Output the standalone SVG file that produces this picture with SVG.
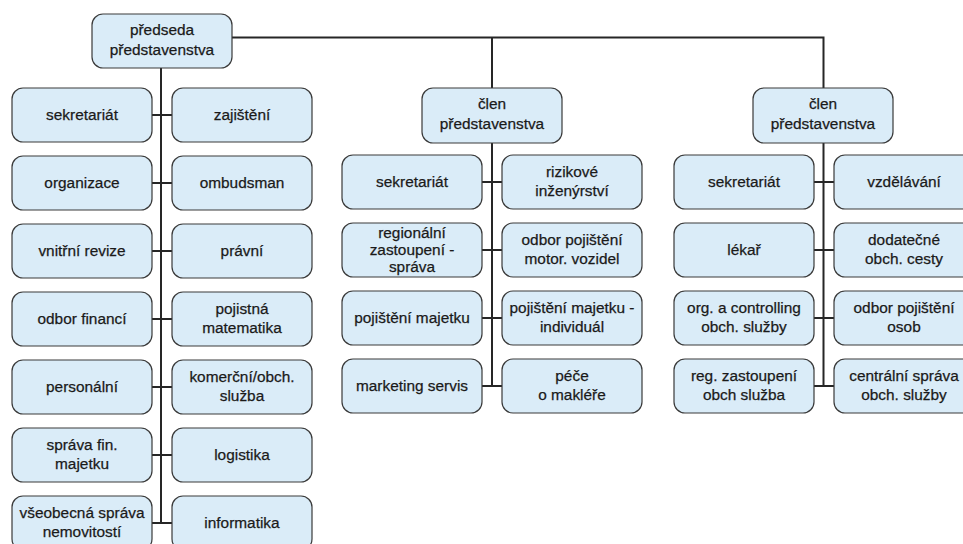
<svg xmlns="http://www.w3.org/2000/svg" width="963" height="544" viewBox="0 0 963 544">
<style>
.b{fill:#daecf8;stroke:#3a3a3a;stroke-width:1.2}
.t{font-family:"Liberation Sans",Arial,sans-serif;font-size:15.4px;fill:#1a1a1a;stroke:#1a1a1a;stroke-width:0.25;text-anchor:middle}
.c{stroke:#262626;stroke-width:2;fill:none}
</style>
<rect width="963" height="544" fill="#ffffff"/>
<g id="connectors" class="c">
<path d="M232 37.5H823.5V88M492 37.5V88"/>
<path d="M161 68V523M152 115H172M152 183H172M152 251H172M152 319H172M152 387H172M152 455H172M152 523H172"/>
<path d="M492 143V386M482 182H502M482 250H502M482 318H502M482 386H502"/>
<path d="M823.5 143V386M814 182H834M814 250H834M814 318H834M814 386H834"/>
</g>
<g id="predseda"><rect class="b" x="92" y="14" width="140" height="54" rx="11"/><text class="t" x="162" y="35">předseda</text><text class="t" x="162" y="54.5">představenstva</text></g>
<g id="l-sekretariat"><rect class="b" x="12" y="88" width="140" height="54" rx="11"/><text class="t" x="82" y="120">sekretariát</text></g>
<g id="l-zajisteni"><rect class="b" x="172" y="88" width="140" height="54" rx="11"/><text class="t" x="242" y="120">zajištění</text></g>
<g id="l-organizace"><rect class="b" x="12" y="156" width="140" height="54" rx="11"/><text class="t" x="82" y="188">organizace</text></g>
<g id="l-ombudsman"><rect class="b" x="172" y="156" width="140" height="54" rx="11"/><text class="t" x="242" y="188">ombudsman</text></g>
<g id="l-revize"><rect class="b" x="12" y="224" width="140" height="54" rx="11"/><text class="t" x="82" y="256">vnitřní revize</text></g>
<g id="l-pravni"><rect class="b" x="172" y="224" width="140" height="54" rx="11"/><text class="t" x="242" y="256">právní</text></g>
<g id="l-financi"><rect class="b" x="12" y="292" width="140" height="54" rx="11"/><text class="t" x="82" y="324">odbor financí</text></g>
<g id="l-matematika"><rect class="b" x="172" y="292" width="140" height="54" rx="11"/><text class="t" x="242" y="314">pojistná</text><text class="t" x="242" y="333">matematika</text></g>
<g id="l-personalni"><rect class="b" x="12" y="360" width="140" height="54" rx="11"/><text class="t" x="82" y="392">personální</text></g>
<g id="l-komercni"><rect class="b" x="172" y="360" width="140" height="54" rx="11"/><text class="t" x="242" y="382">komerční/obch.</text><text class="t" x="242" y="401">služba</text></g>
<g id="l-sprava-fin"><rect class="b" x="12" y="428" width="140" height="54" rx="11"/><text class="t" x="82" y="450">správa fin.</text><text class="t" x="82" y="469">majetku</text></g>
<g id="l-logistika"><rect class="b" x="172" y="428" width="140" height="54" rx="11"/><text class="t" x="242" y="460">logistika</text></g>
<g id="l-nemovitosti"><rect class="b" x="12" y="496" width="140" height="54" rx="11"/><text class="t" x="82" y="518">všeobecná správa</text><text class="t" x="82" y="537">nemovitostí</text></g>
<g id="l-informatika"><rect class="b" x="172" y="496" width="140" height="54" rx="11"/><text class="t" x="242" y="528">informatika</text></g>
<g id="clen1"><rect class="b" x="422" y="88" width="140" height="55" rx="11"/><text class="t" x="492" y="109">člen</text><text class="t" x="492" y="128.5">představenstva</text></g>
<g id="m-sekretariat"><rect class="b" x="342" y="155" width="140" height="54" rx="11"/><text class="t" x="412" y="187">sekretariát</text></g>
<g id="m-rizikove"><rect class="b" x="502" y="155" width="140" height="54" rx="11"/><text class="t" x="572" y="177">rizikové</text><text class="t" x="572" y="196">inženýrství</text></g>
<g id="m-regionalni"><rect class="b" x="342" y="223" width="140" height="54" rx="11"/><text class="t" x="412" y="237.5">regionální</text><text class="t" x="412" y="254.5">zastoupení -</text><text class="t" x="412" y="271.5">správa</text></g>
<g id="m-motor"><rect class="b" x="502" y="223" width="140" height="54" rx="11"/><text class="t" x="572" y="245">odbor pojištění</text><text class="t" x="572" y="264">motor. vozidel</text></g>
<g id="m-majetku"><rect class="b" x="342" y="291" width="140" height="54" rx="11"/><text class="t" x="412" y="323">pojištění majetku</text></g>
<g id="m-individual"><rect class="b" x="502" y="291" width="140" height="54" rx="11"/><text class="t" x="572" y="313">pojištění majetku -</text><text class="t" x="572" y="332">individuál</text></g>
<g id="m-marketing"><rect class="b" x="342" y="359" width="140" height="54" rx="11"/><text class="t" x="412" y="391">marketing servis</text></g>
<g id="m-pece"><rect class="b" x="502" y="359" width="140" height="54" rx="11"/><text class="t" x="572" y="381">péče</text><text class="t" x="572" y="400">o makléře</text></g>
<g id="clen2"><rect class="b" x="753" y="88" width="140" height="55" rx="11"/><text class="t" x="823" y="109">člen</text><text class="t" x="823" y="128.5">představenstva</text></g>
<g id="r-sekretariat"><rect class="b" x="674" y="155" width="140" height="54" rx="11"/><text class="t" x="744" y="187">sekretariát</text></g>
<g id="r-vzdelavani"><rect class="b" x="834" y="155" width="140" height="54" rx="11"/><text class="t" x="904" y="187">vzdělávání</text></g>
<g id="r-lekar"><rect class="b" x="674" y="223" width="140" height="54" rx="11"/><text class="t" x="744" y="255">lékař</text></g>
<g id="r-dodatecne"><rect class="b" x="834" y="223" width="140" height="54" rx="11"/><text class="t" x="904" y="245">dodatečné</text><text class="t" x="904" y="264">obch. cesty</text></g>
<g id="r-controlling"><rect class="b" x="674" y="291" width="140" height="54" rx="11"/><text class="t" x="744" y="313">org. a controlling</text><text class="t" x="744" y="332">obch. služby</text></g>
<g id="r-osob"><rect class="b" x="834" y="291" width="140" height="54" rx="11"/><text class="t" x="904" y="313">odbor pojištění</text><text class="t" x="904" y="332">osob</text></g>
<g id="r-reg"><rect class="b" x="674" y="359" width="140" height="54" rx="11"/><text class="t" x="744" y="381">reg. zastoupení</text><text class="t" x="744" y="400">obch služba</text></g>
<g id="r-centralni"><rect class="b" x="834" y="359" width="140" height="54" rx="11"/><text class="t" x="904" y="381">centrální správa</text><text class="t" x="904" y="400">obch. služby</text></g>
</svg>
